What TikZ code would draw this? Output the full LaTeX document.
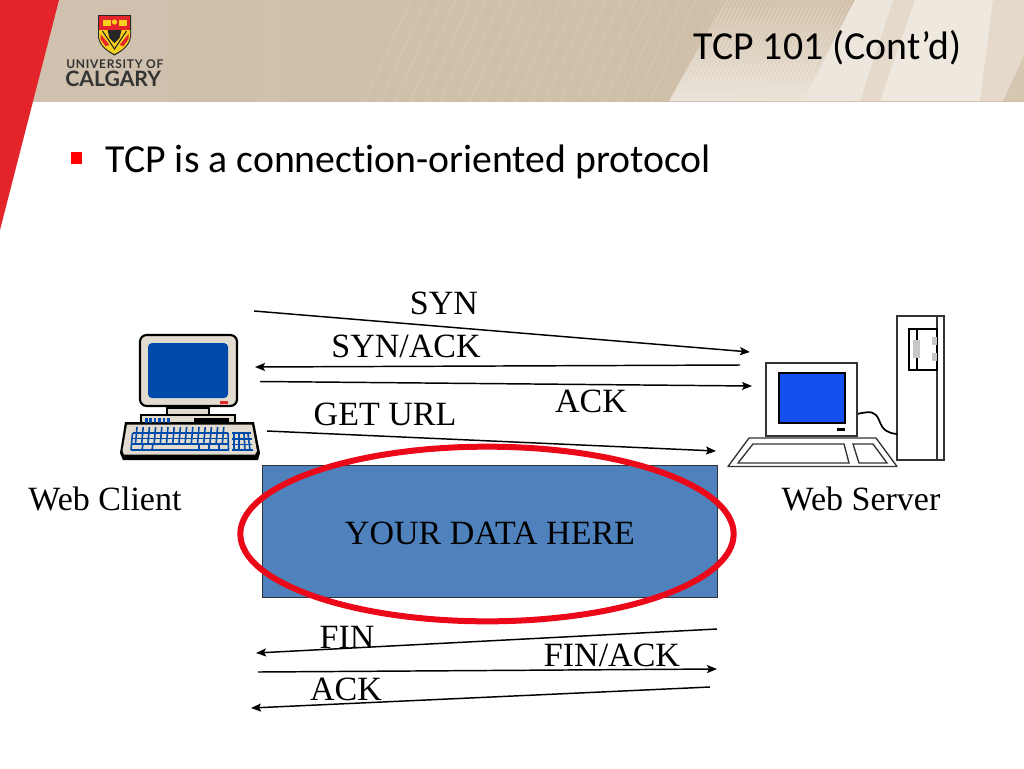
\documentclass[tikz,border=0pt]{standalone}
\usepackage{fontspec}
\setmainfont{Liberation Serif}
\newfontfamily\calfont[Ligatures=NoCommon]{Carlito}
\newfontfamily\logofont{Lato}
\newfontfamily\logospaced[LetterSpace=6]{Lato}
\usetikzlibrary{arrows.meta,shapes.geometric}
\definecolor{hdr}{RGB}{207,193,174}
\definecolor{hdrm}{RGB}{209,190,165}
\definecolor{ured}{RGB}{227,36,43}
\definecolor{sblue}{RGB}{79,129,189}
\definecolor{cblue}{RGB}{0,75,170}
\definecolor{srv}{RGB}{20,80,240}
\definecolor{bone}{RGB}{226,219,207}
\definecolor{dk}{RGB}{51,51,51}
\definecolor{ringred}{RGB}{235,8,24}
\definecolor{crest}{RGB}{247,208,30}
\tikzset{
 x=0.75pt,y=-0.75pt,
 msg/.style={draw=black,line width=1.1pt,-{Stealth[length=7.5pt,width=6pt,inset=1.5pt]}},
 lab/.style={font=\fontsize{25.5pt}{26pt}\selectfont,inner sep=0,text=black,anchor=base},
 body/.style={font=\calfont\fontsize{29.8pt}{30pt}\selectfont,inner sep=0}
}
\begin{document}
\begin{tikzpicture}
\useasboundingbox (0,0) rectangle (1024,768);
\fill[white] (0,0) rectangle (1024,768);
% header
\shade[left color=hdr,right color=hdrm] (0,0) rectangle (1024,101);
\foreach \xx in {365,380,...,660}{
 \draw[white,opacity=.2,line width=.4pt] (\xx,101) -- ({\xx+46},0);
}
\shade[left color=white!0!hdrm,right color=white,opacity=.55,shading angle=0] (669,101) -- (725,0) -- (855,0) -- (803,101) -- cycle;
\foreach \xx in {672,676,...,800}{
 \draw[white,opacity=.4,line width=.3pt] (\xx,101) -- ({\xx+56},0);
 \draw[white,opacity=.2,line width=.3pt] (\xx,101) -- ({\xx+42},0);
}
\fill[white,opacity=.62] (803,101) -- (855,0) -- (893,0) -- (860,101) -- cycle;
\fill[white,opacity=.42] (860,101) -- (893,0) -- (915,0) -- (880,101) -- cycle;
\fill[white,opacity=.65] (880,101) -- (915,0) -- (993,0) -- (980,101) -- cycle;
\fill[white,opacity=.42] (980,101) -- (993,0) -- (1024,0) -- (1024,55) -- (1003,101) -- cycle;
\fill[white,opacity=.15] (1003,101) -- (1024,55) -- (1024,101) -- cycle;
\fill[ured] (0,0) -- (59,0) -- (0,230) -- cycle;
% logo crest
\begin{scope}[shift={(114.5,35)}]
\fill[black!85] (-16.5,-20) -- (16.5,-20) -- (16.5,2) .. controls (15,12) and (6,17) .. (0,20.5) .. controls (-6,17) and (-15,12) .. (-16.5,2) -- cycle;
\fill[ured] (-15.5,-19) -- (15.5,-19) -- (15.5,-5) -- (-15.5,-5) -- cycle;
\fill[crest] (-15.5,-5) -- (15.5,-5) -- (15.5,2) .. controls (14,11) and (6,16) .. (0,19) .. controls (-6,16) and (-14,11) .. (-15.5,2) -- cycle;
\fill[ured] (-14,-1) -- (-5,10) -- (-9,11) -- (-14,4) -- cycle;
\fill[ured] (14,-1) -- (5,10) -- (9,11) -- (14,4) -- cycle;
\draw[black!85,line width=.8pt] (-12,-4) -- (0,14) -- (12,-4);
\fill[black!85] (-7,-5) -- (7,-5) -- (5,3) -- (0,8) -- (-5,3) -- cycle;
\fill[crest] (-12,-15) rectangle (-4,-9);
\fill[crest] (4,-15) rectangle (12,-9);
\fill[crest] (0,-13) circle (2.6);
\end{scope}
\node[font=\logospaced\bfseries\fontsize{9pt}{10pt}\selectfont,text=dk,inner sep=0,anchor=base west] (uni) at (66,68) {UNIVERSITY OF};
\node[font=\logofont\bfseries\fontsize{15.9pt}{16pt}\selectfont,text=dk,inner sep=0,anchor=base west] (cal) at (65,86) {CALGARY};
% title
\node[body,anchor=base east] (title) at (962,59) {TCP 101 (Cont’d)};
\fill[red] (71,152) rectangle (82,164);
\node[body,anchor=base west] (bullet) at (105.5,172.5) {TCP is a connection-oriented protocol};
% data box
\node[draw=dk,line width=.6pt,fill=sblue,minimum width=341.25pt,minimum height=99pt,inner sep=0,anchor=north west] (box) at (262,465) {};
\node[lab] (data) at (490,544) {YOUR DATA HERE};
\node[draw=ringred,line width=4.5pt,ellipse,minimum width=370pt,minimum height=131pt,inner sep=0] (ring) at (487,534) {};
% client computer
\begin{scope}
\fill[black] (120,453) -- (125,422) -- (254,422) -- (260,453) -- (258,460) -- (123,460) -- cycle;
\fill[bone] (122.5,451) -- (127,424.5) -- (252,424.5) -- (257,451) -- (255,454.5) -- (124,454.5) -- cycle;
\draw[line width=1pt,fill=bone] (141,415) rectangle (235,423);
\draw[line width=1pt,fill=bone] (167,408) rectangle (209,415);
\fill[black] (194,418) rectangle (229,423);
\foreach \i in {0,...,5}{\fill[cblue] ({145+\i*4.4},418) rectangle ({147.5+\i*4.4},423);}
\draw[line width=1.6pt,fill=bone,rounded corners=5pt] (140,335) rectangle (237,406);
\fill[cblue,rounded corners=3pt] (148,343) rectangle (228,398);
\fill[ured] (220,401) rectangle (228,403.5);
% keys
\foreach \yy/\a/\b in {433/133/228,438.5/132.5/228,444/132/228,450/131/228.5}{\draw[cblue,line width=1.3pt] (\a,\yy) -- (\b,\yy);}
\foreach \xx in {0,...,14}{\draw[cblue,line width=1.2pt] ({137+\xx*6.2},427) -- ({135.5+\xx*6.2},444);}
\draw[cblue,line width=1.2pt] (132.5,433) -- (131,450) (228,433) -- (228.5,450);
\draw[cblue,line width=1.2pt] (143,444) -- (142,450) (153,444) -- (152,450) (199,444) -- (199,450) (209,444) -- (209,450) (219,444) -- (219,450);
\draw[cblue,line width=1.2pt] (232,433) -- (251,433) (232,439) -- (252,439) (232,444.5) -- (252,444.5) (232,450) -- (253,450);
\draw[cblue,line width=1.2pt] (234,434) -- (234,450) (239,434) -- (239,450) (244,434) -- (245,450) (248,434) -- (250,450);
\end{scope}
% server computer
\begin{scope}
\draw[dk,fill=white,line width=1pt] (897,316) rectangle (944,460);
\draw[dk,line width=1pt] (937,460) -- (937,316);
\draw[black,line width=1pt] (909,329) rectangle (937,370);
\draw[black,line width=1pt] (917,329) -- (917,370);
\fill[black!22] (913,340) rectangle (920,358);
\fill[black!22] (932,337) rectangle (937,345);
\fill[black!22] (932,353) rectangle (937,361);
\draw[black,line width=1.3pt] (857,414) .. controls (871,411) and (875,411) .. (879,420) .. controls (883,431) and (888,433) .. (897,434);
\draw[dk,fill=white,line width=1pt] (766,363) rectangle (857,436);
\draw[black,fill=srv,line width=.8pt] (779,373) rectangle (845,423);
\fill[black] (837,428) rectangle (845,431);
\draw[dk,fill=white,line width=1pt,line join=round] (749,438) -- (876,438) -- (897,466.5) -- (728,466.5) -- cycle;
\draw[dk,line width=1pt] (753,444) -- (844,444) -- (849,463) -- (738,463) -- cycle;
\draw[dk,line width=1pt] (853,444) -- (873,444) -- (887,463) -- (859,463) -- cycle;
\end{scope}
% anchors for connectors
\coordinate (a1) at (254,311); \coordinate (a2) at (750,352);
\coordinate (b1) at (740,365); \coordinate (b2) at (255,367);
\coordinate (c1) at (260,381.5); \coordinate (c2) at (752,386);
\coordinate (d1) at (267,431); \coordinate (d2) at (716,451);
\coordinate (e1) at (717,629); \coordinate (e2) at (256,653);
\coordinate (f1) at (258,672); \coordinate (f2) at (717,669);
\coordinate (g1) at (710,687); \coordinate (g2) at (251,708);
\draw[msg] (a1) -- (a2);
\draw[msg] (b1) -- (b2);
\draw[msg] (c1) -- (c2);
\draw[msg] (d1) -- (d2);
\draw[msg] (e1) -- (e2);
\draw[msg] (f1) -- (f2);
\draw[msg] (g1) -- (g2);
% labels
\node[lab] (syn) at (444,314) {SYN};
\node[lab] (synack) at (406,357) {SYN/ACK};
\node[lab] (ack1) at (591,412.5) {ACK};
\node[lab] (get) at (385,425) {GET URL};
\node[lab] (client) at (105,510) {Web Client};
\node[lab] (server) at (861,510) {Web Server};
\node[lab] (fin) at (347,648.5) {FIN};
\node[lab] (finack) at (612,666) {FIN/ACK};
\node[lab] (ack2) at (346,700) {ACK};
\end{tikzpicture}
\end{document}
